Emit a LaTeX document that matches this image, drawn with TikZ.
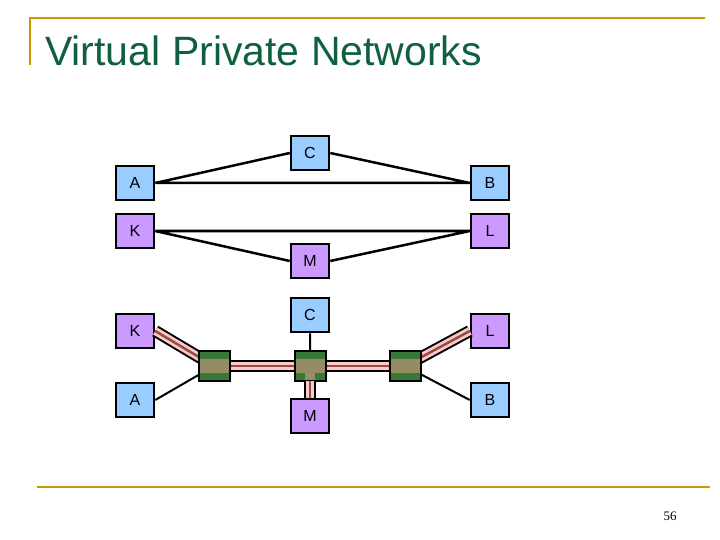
\documentclass[tikz,border=0pt]{standalone}
\usepackage{fontspec}
\setmainfont{Liberation Sans}
\newfontfamily\serifpg{Liberation Serif}
\definecolor{gold}{RGB}{204,153,0}
\definecolor{titlegreen}{RGB}{16,96,64}
\definecolor{bbox}{RGB}{153,204,255}
\definecolor{pbox}{RGB}{204,153,255}
\definecolor{swg}{RGB}{56,120,56}
\definecolor{swk}{RGB}{150,140,100}
\definecolor{pipe}{RGB}{255,200,200}
\definecolor{pipeb}{RGB}{140,80,70}
\begin{document}
\begin{tikzpicture}[x=1pt,y=-1pt,
 box/.style={draw=black,line width=2.5pt,minimum width=38pt,minimum height=34pt,inner sep=0pt,font=\fontsize{16}{16}\selectfont},
 bl/.style={box,fill=bbox}, pu/.style={box,fill=pbox},
 ln/.style={line width=2.5pt},
 thin/.style={line width=2pt}]
\useasboundingbox (0,0) rectangle (720,540);
\draw[gold,line width=2.5pt] (30,65) -- (30,18) -- (705,18);
\draw[gold,line width=2.5pt] (37,487) -- (710,487);
\node[anchor=base west,text=titlegreen,font=\fontsize{41}{41}\selectfont,inner sep=0pt] (t) at (45,66) {Virtual Private Networks};
\node[font=\serifpg\fontsize{13}{13}\selectfont] (pg) at (670,516) {56};
% top
\node[bl] (C1) at (310,153) {C};
\node[bl] (A1) at (135,183) {A};
\node[bl] (B1) at (490,183) {B};
\node[pu] (K1) at (135,231) {K};
\node[pu] (L1) at (490,231) {L};
\node[pu] (M1) at (310,261) {M};
\draw[ln] (A1.east) -- (C1.west) (C1.east) -- (B1.west) (A1) -- (B1);
\draw[ln] (K1) -- (L1) (K1.east) -- (M1.west) (M1.east) -- (L1.west);
% bottom
\node[pu] (K2) at (135,331) {K};
\node[bl] (C2) at (310,315) {C};
\node[pu] (L2) at (490,331) {L};
\node[bl] (A2) at (135,400) {A};
\node[pu] (M2) at (310,416) {M};
\node[bl] (B2) at (490,400) {B};
\coordinate (s1) at (214,366);
\coordinate (s2) at (310,366);
\coordinate (s3) at (405,366);
\draw[thin] (A2.east) -- (s1) (B2.west) -- (s3) (C2) -- (s2);
\foreach \p/\q in {K2.east/s1, s1/s3, L2.west/s3}{
 \draw[black,line width=12pt] (\p) -- (\q);
 \draw[pipe,line width=8pt] (\p) -- (\q);
 \draw[pipeb,line width=2.5pt] (\p) -- (\q);}
\foreach \s in {s1,s2,s3}{
 \node[draw=black,line width=2pt,fill=swg,minimum width=31pt,minimum height=30pt,inner sep=0pt] (\s b) at (\s) {};
 \fill[swk] ([xshift=-14.5pt,yshift=-7pt]\s) rectangle ([xshift=14.5pt,yshift=7pt]\s);}
\fill[swk] (305,366) rectangle (315,380);
\draw[black,line width=12pt] (310,382) -- (M2.north);
\draw[pipe,line width=8pt] (310,381) -- (M2.north);
\draw[pipeb,line width=2.5pt] (310,381) -- (M2.north);
\end{tikzpicture}
\end{document}
